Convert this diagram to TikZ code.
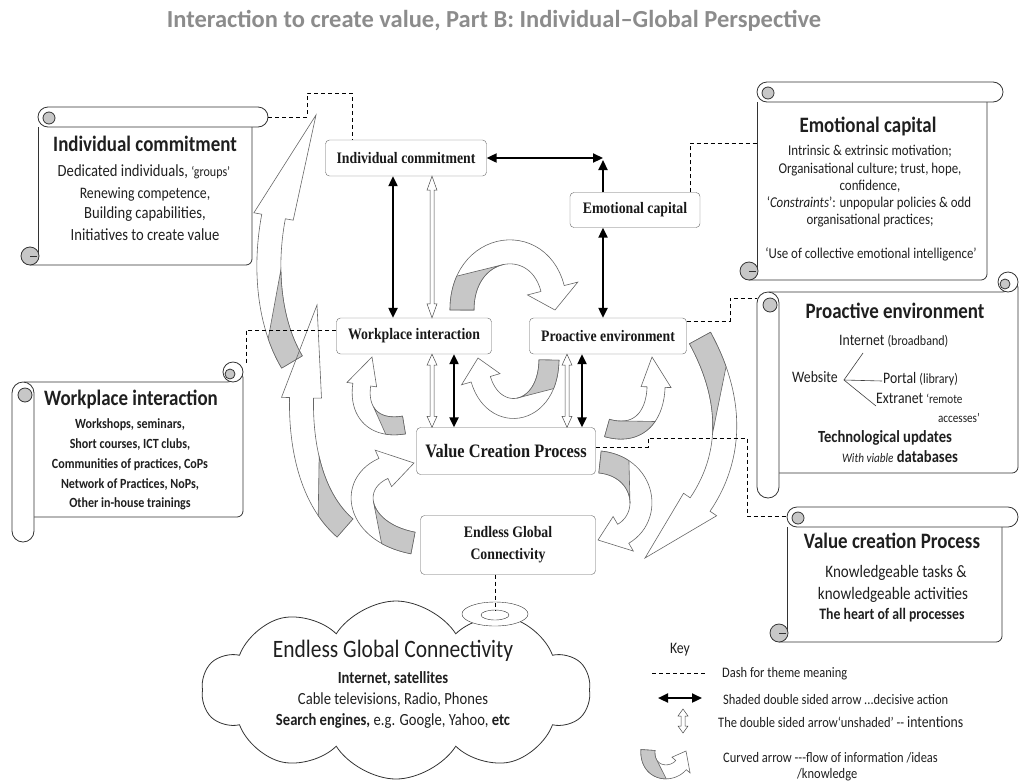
\documentclass[tikz,border=0pt]{standalone}
\usepackage{fontspec}
\usepackage{graphicx}
\setmainfont{Carlito}
\newfontfamily\boxfont{Liberation Serif}
\usetikzlibrary{arrows.meta,shapes.symbols,shapes.geometric,calc}

\newcommand\fsz[1]{\fontsize{#1}{#1}\selectfont}
\newcommand\squeeze[1]{\scalebox{0.86}[1]{#1}}

% scroll rolled across the top: left, top, right, bottom
\newcommand\hscroll[4]{%
  \draw[scroll] (#1,#2+20) -- (#1,#4-9);
  \draw[scroll, rounded corners=6pt] (#1-8,#4) -- (#3-16,#4) -- (#3-16,#2+20);
  \filldraw[scroll, fill=black!22] (#1-8,#4-9) circle (9);
  \draw[scroll] (#1-8,#4-9) -- (#1-1,#4-9);
  \draw[scroll, fill=white, rounded corners=10pt] (#1,#2) rectangle (#3,#2+20);
  \filldraw[scroll, fill=black!22] (#1+11,#2+11) circle (6);
}
% scroll rolled down the left side: left, top, right, bottom
\newcommand\vscroll[4]{%
  \filldraw[scroll, fill=white, rounded corners=6pt] (#1+12,#2+20) -- (#3-10,#2+20) -- (#3,#2+10) -- (#3,#4-25) -- (#1+12,#4-25);
  \filldraw[scroll, fill=white] (#3-10,#2+10) circle (10);
  \filldraw[scroll, fill=black!22] (#3-13,#2+12) circle (5);
  \draw[scroll, fill=white, rounded corners=11pt] (#1,#2+20) rectangle (#1+22,#4);
  \filldraw[scroll, fill=black!22] (#1+13,#2+33) circle (7);
}
% unshaded double arrow: top point, bottom point, head length
\newcommand\intent[3]{%
  \path #1 coordinate (ia) #2 coordinate (ib);
  \draw[intention] (ia) -- ($(ia)+(5,#3)$) -- ($(ia)+(2,#3)$) -- ($(ib)+(2,-#3)$) -- ($(ib)+(5,-#3)$)
    -- (ib) -- ($(ib)+(-5,-#3)$) -- ($(ib)+(-2,-#3)$) -- ($(ia)+(-2,#3)$) -- ($(ia)+(-5,#3)$) -- cycle;
}

\begin{document}
\begin{tikzpicture}[x=1pt,y=-1pt,
  declare function={
    bz(\t,\a,\b,\c,\d)=(1-\t)^3*\a+3*(1-\t)^2*\t*\b+3*(1-\t)*\t^2*\c+\t^3*\d;
    bd(\t,\a,\b,\c,\d)=0.03*((1-\t)^2*(\b-\a)+2*(1-\t)*\t*(\c-\b)+\t^2*(\d-\c));
    ribx(\t,\s)=bz(\t,\xa,\xb,\xc,\xd)-\s*bd(\t,\ya,\yb,\yc,\yd)/veclen(bd(\t,\xa,\xb,\xc,\xd),bd(\t,\ya,\yb,\yc,\yd));
    riby(\t,\s)=bz(\t,\ya,\yb,\yc,\yd)+\s*bd(\t,\xa,\xb,\xc,\xd)/veclen(bd(\t,\xa,\xb,\xc,\xd),bd(\t,\ya,\yb,\yc,\yd));
  },
  box/.style={draw=black!60, rounded corners=4pt, fill=white, align=center, inner sep=0pt,
    text=black!90, font=\boxfont\bfseries\fontsize{16}{22}\selectfont},
  decisive/.style={line width=2.2pt, {Triangle[length=10pt,width=9pt]}-{Triangle[length=10pt,width=9pt]}},
  intention/.style={draw=black!70, fill=white, line width=0.5pt},
  theme/.style={dash pattern=on 4pt off 3pt, line width=0.7pt},
  scroll/.style={draw=black!80, line width=0.8pt},
  front/.style={draw=black!60, line width=0.6pt},
  back/.style={fill=black!22, draw=black!60, line width=0.6pt},
  say/.style={anchor=mid, inner sep=0pt, xscale=0.86, yshift=-3pt, text=black!88},
  ]
\useasboundingbox (0,0) rectangle (1019,782);

\node[anchor=mid, yshift=-3pt, font=\fsz{24.5}\bfseries, text=black!45] (title) at (494,22)
  {Interaction to create value, Part B: Individual–Global Perspective};

% scrolls
\hscroll{38}{107}{268}{265}
\hscroll{757}{82}{1003}{280}
\hscroll{787}{507}{1018}{642}
\vscroll{12}{362}{243}{542}
\vscroll{757}{272}{1018}{498}

\node[cloud, draw=black!80, line width=0.8pt, cloud puffs=10, cloud puff arc=115, aspect=2.2,
  minimum width=388pt, minimum height=178pt, inner sep=0pt] (cloud) at (396,690) {};
\node[ellipse, draw=black!80, fill=white, minimum width=66pt, minimum height=24pt] (dish) at (495,614) {};
\node[ellipse, draw=black!80, minimum width=28pt, minimum height=10pt] (dishIn) at (495,615) {};

% curved flow arrows: four control points, twist up to, head from, half width, head half width
\foreach \xa/\ya/\xb/\yb/\xc/\yc/\xd/\yd/\tg/\tb/\w/\h in {
    292/362/255/300/262/190/316/115/0.4/0.6/12/20,
    345/528/290/480/295/370/317/305/0.35/0.6/12/20,
    700/338/745/420/730/500/645/558/0.4/0.72/12/20,
    462/310/462/235/556/230/555/310/0.45/0.9/12/26,
    549/360/548/425/478/425/478/358/0.45/0.88/10/20,
    404/425/362/432/350/395/372/357/0.45/0.75/9/15,
    607/428/650/440/664/398/652/357/0.45/0.75/9/15,
    413/543/345/530/345/462/414/463/0.45/0.82/11/20,
    600/462/655/468/655/540/598/540/0.5/0.82/11/20,
    648/750/646/780/686/778/686/751/0.5/0.78/7/12}{
  \draw[front] plot[domain=0:\tb, samples=30] ({ribx(\x,\w)},{riby(\x,\w)})
    -- ({ribx(\tb,\h)},{riby(\tb,\h)}) -- (\xd,\yd) -- ({ribx(\tb,-\h)},{riby(\tb,-\h)})
    -- plot[domain=\tb:0, samples=30] ({ribx(\x,-\w)},{riby(\x,-\w)}) -- cycle;
  \filldraw[back] plot[domain=0:\tg, samples=25] ({ribx(\x,\w)},{riby(\x,\w)})
    -- plot[domain=\tg/3:0, samples=10] ({ribx(\x,-\w)},{riby(\x,-\w)}) -- cycle;
}

% main boxes
\node[box, minimum width=161pt, minimum height=36pt] (ic) at (406,158) {\squeeze{Individual commitment}};
\node[box, minimum width=130pt, minimum height=35pt] (ec) at (635,210) {\squeeze{Emotional capital}};
\node[box, minimum width=155pt, minimum height=36pt] (wi) at (414,336) {\squeeze{Workplace interaction}};
\node[box, minimum width=157pt, minimum height=36pt] (pe) at (608,336) {\squeeze{Proactive environment}};
\node[box, minimum width=179pt, minimum height=47pt, font=\boxfont\bfseries\fsz{19}] (vcp) at (506,451) {\squeeze{Value Creation Process}};
\node[box, minimum width=175pt, minimum height=59pt] (egc) at (508,545) {\squeeze{Endless Global}\\\squeeze{Connectivity}};

% decisive action
\draw[decisive] (ic.east) -- (603,0 |- ic.east);
\draw[line width=2.2pt, -{Triangle[length=10pt,width=9pt]}] (603,0 |- ec.north) -- ($(603,0 |- ic.east)+(0,2)$);
\draw[decisive] (603,0 |- ec.south) -- (603,0 |- pe.north);
\draw[decisive] (393,0 |- ic.south) -- (393,0 |- wi.north);
\draw[decisive] (454,0 |- wi.south) -- (454,0 |- vcp.north);
\draw[decisive] (582,0 |- pe.south) -- (582,0 |- vcp.north);

% intentions
\intent{(432,0 |- ic.south)}{(432,0 |- wi.north)}{14}
\intent{(432,0 |- wi.south)}{(432,0 |- vcp.north)}{11}
\intent{(567,0 |- pe.south)}{(567,0 |- vcp.north)}{11}

% theme meaning
\coordinate (icTag) at (268,117);
\coordinate (ecTag) at (757,143);
\coordinate (wiTag) at (246,364);
\coordinate (peTag) at (757,298);
\coordinate (vcTag) at (787,516);
\draw[theme] (icTag) -- (307,117) -- (307,93) -- (352,93) -- (352,0 |- ic.north);
\draw[theme] (690,0 |- ec.north) -- (690,143) -- (ecTag);
\draw[theme] (wi.west |- 0,330) -- (246,330) -- (wiTag);
\draw[theme] (pe.east |- 0,321) -- (730,321) -- (730,298) -- (peTag);
\draw[theme] (vcp.east |- 0,447) -- (648,447) -- (648,438) -- (747,438) -- (747,516) -- (vcTag);
\draw[theme] (egc.south -| dish.center) -- (dishIn.north);

% individual commitment
\node[say, font=\fsz{22}\bfseries] (icHead) at (145,146) {Individual commitment};
\node[say, font=\fsz{17}] (icA) at (144,171) {Dedicated individuals, {\fsz{14}‘groups’}};
\node[say, font=\fsz{16}] (icB) at (145,193) {Renewing competence,};
\node[say, font=\fsz{17}] (icC) at (145,213) {Building capabilities,};
\node[say, font=\fsz{17}] (icD) at (145,235) {Initiatives to create value};

% emotional capital
\node[say, font=\fsz{22}\bfseries] (ecHead) at (868,127) {Emotional capital};
\node[say, font=\fsz{15}] (ecA) at (870,150) {Intrinsic \& extrinsic motivation;};
\node[say, font=\fsz{15}] (ecB) at (870,168) {Organisational culture; trust, hope,};
\node[say, font=\fsz{15}] (ecC) at (870,185) {confidence,};
\node[say, font=\fsz{15}] (ecD) at (869,202) {‘\textit{Constraints}’: unpopular policies \& odd};
\node[say, font=\fsz{15}] (ecE) at (870,219) {organisational practices;};
\node[say, font=\fsz{15}] (ecF) at (871,253) {‘Use of collective emotional intelligence’};

% workplace interaction
\node[say, font=\fsz{22}\bfseries] (wiHead) at (131,400) {Workplace interaction};
\node[say, font=\fsz{14}\bfseries] (wiA) at (130,423) {Workshops,\ seminars,};
\node[say, font=\fsz{14}\bfseries] (wiB) at (130,443) {Short courses,\ ICT clubs,};
\node[say, font=\fsz{14}\bfseries] (wiC) at (130,463) {Communities of practices, CoPs};
\node[say, font=\fsz{14}\bfseries] (wiD) at (130,483) {Network of Practices, NoPs,};
\node[say, font=\fsz{14}\bfseries] (wiE) at (130,502) {Other in-house\ trainings};

% proactive environment
\node[say, font=\fsz{22}\bfseries] (peHead) at (895,313) {Proactive environment};
\node[say, anchor=mid west, font=\fsz{16}] (inet) at (839,340) {Internet {\fsz{14}(broadband)}};
\node[say, anchor=mid west, font=\fsz{16}] (web) at (792,377) {Website};
\node[say, anchor=mid west, font=\fsz{16}] (portal) at (883,378) {Portal {\fsz{14}(library)}};
\node[say, anchor=mid west, font=\fsz{16}] (extra) at (876,398) {Extranet {\fsz{13}‘remote}};
\node[say, anchor=mid east, font=\fsz{13}] (acc) at (980,417) {accesses’};
\node[say, font=\fsz{17}\bfseries] (tech) at (885,437) {Technological updates};
\node[say, font=\fsz{17}] (viable) at (900,457) {{\fsz{13}\itshape With viable} \textbf{databases}};
\coordinate (fork) at ($(web.mid east)+(6,0)$);
\draw[black!75, line width=0.6pt] (fork) -- ($(inet.mid west)+(24,10)$);
\draw[black!75, line width=0.6pt] (fork) -- ($(portal.mid west)+(-1,0)$);
\draw[black!75, line width=0.6pt] (fork) -- ($(extra.mid west)+(0,5)$);

% value creation process
\node[say, font=\fsz{22}\bfseries] (vcHead) at (892,543) {Value creation Process};
\node[say, font=\fsz{17.5}] (vcA) at (896,572) {Knowledgeable tasks \&};
\node[say, font=\fsz{17.5}] (vcB) at (893,594) {knowledgeable activities};
\node[say, font=\fsz{16}\bfseries] (vcC) at (892,614) {The heart of all processes};

% endless global connectivity
\node[say, font=\fsz{25}] (egHead) at (393,652) {Endless Global Connectivity};
\node[say, font=\fsz{17}\bfseries] (egA) at (393,678) {Internet, satellites};
\node[say, font=\fsz{17}] (egB) at (393,699) {Cable televisions, Radio, Phones};
\node[say, font=\fsz{17}] (egC) at (393,720) {\textbf{Search engines,} e.g. Google, Yahoo, \textbf{etc}};

% key
\node[say, font=\fsz{16}] (key) at (680,648) {Key};
\draw[theme] (652,673) -- (705,673);
\draw[decisive] (658,698) -- (702,698);
\intent{(683,709)}{(683,733)}{7}
\node[say, anchor=mid west, font=\fsz{14.5}] (keyA) at (722,672) {Dash for theme meaning};
\node[say, anchor=mid west, font=\fsz{14.5}] (keyB) at (723,699) {Shaded double sided arrow ...decisive action};
\node[say, anchor=mid west, font=\fsz{14.5}] (keyC) at (718,722) {The double sided arrow‘unshaded’ -{}- {\fsz{16}intentions}};
\node[say, anchor=mid west, font=\fsz{14.5}] (keyD) at (723,757) {Curved arrow -{}-{}-flow of information /ideas};
\node[say, anchor=mid west, font=\fsz{14.5}] (keyE) at (797,773) {/knowledge};
\end{tikzpicture}
\end{document}
